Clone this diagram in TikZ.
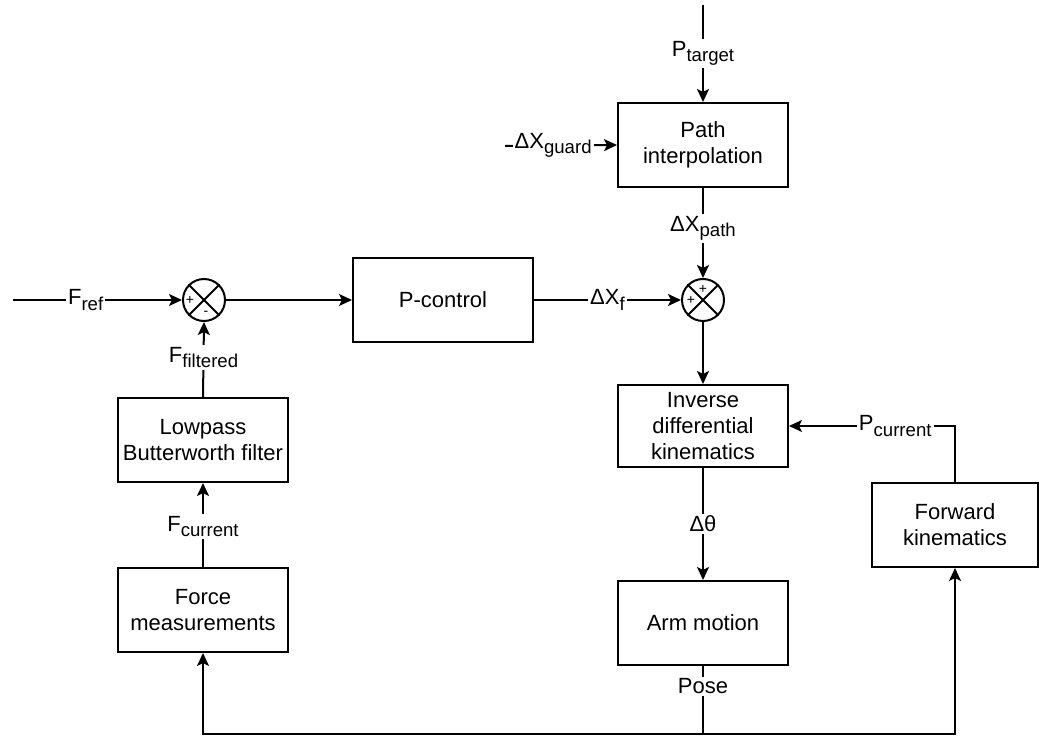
\documentclass[tikz,border=0pt]{standalone}
\usepackage{fontspec}
\setmainfont{Liberation Sans}
\usetikzlibrary{arrows.meta}
\newcommand{\lowtxt}[1]{\raisebox{-2.6pt}{\fontsize{9.3pt}{10pt}\selectfont #1}}

\begin{document}
\begin{tikzpicture}[x=0.5pt,y=-0.5pt,line width=1pt,
  >={Stealth[length=6.5pt,width=6pt,inset=1.5pt]},
  font=\fontsize{11pt}{13pt}\selectfont]
\tikzset{
  block/.style={draw, minimum width=85pt, minimum height=42pt, align=center, inner sep=1pt},
  sumjunc/.style={draw, circle, minimum size=21pt, inner sep=0pt},
  sig/.style={fill=white, inner sep=1pt},
  sgn/.style={font=\fontsize{7pt}{7pt}\selectfont, inner sep=0pt}
}
\useasboundingbox (0,0) rectangle (1039,737);
\node[block] (path) at (703,145) {Path\\interpolation};
\node[block, minimum width=90pt] (pctrl) at (443,300) {P-control};
\node[sumjunc] (sumf) at (204,300) {};
\node[sumjunc] (sumx) at (703,300) {};
\node[block] (lowpass) at (203,440) {Lowpass\\Butterworth filter};
\node[block] (force) at (203,610) {Force\\measurements};
\node[block, minimum height=41pt] (idk) at (703,426) {Inverse\\differential\\kinematics};
\node[block] (arm) at (703,623) {Arm motion};
\node[block, minimum width=83pt] (fk) at (955,525) {Forward\\kinematics};
\draw (sumf.north west) -- (sumf.south east) (sumf.north east) -- (sumf.south west);
\draw (sumx.north west) -- (sumx.south east) (sumx.north east) -- (sumx.south west);
\node[sgn] (sfa) at ([xshift=-7pt]sumf.center) {+};
\node[sgn] (sfb) at ([xshift=1pt,yshift=-6.5pt]sumf.center) {-};
\node[sgn] (sxa) at ([yshift=5.5pt]sumx.center) {+};
\node[sgn] (sxb) at ([xshift=-6pt]sumx.center) {+};
\coordinate (ptop) at (703,5);
\coordinate (gstart) at (505,146);
\coordinate (fstart) at (13,300);
\coordinate (base) at (703,734);
\draw[->] (ptop) -- node[sig]{P\lowtxt{target}} (path.north);
\draw[->] (gstart) -- node[sig,pos=0.43]{ΔX\lowtxt{guard}} (path.west);
\draw[->] (fstart) -- node[sig,pos=0.43]{F\lowtxt{ref}} (sumf.west);
\draw[->] (sumf.east) -- (pctrl.west);
\draw[->] (pctrl.east) -- node[sig]{ΔX\lowtxt{f}} (sumx.west);
\draw[->] (path.south) -- node[sig,pos=0.45]{ΔX\lowtxt{path}} (sumx.north);
\draw[->] (sumx.south) -- (idk.north);
\draw[->] (lowpass.north) -- node[sig,pos=0.53]{F\lowtxt{filtered}} (sumf.south);
\draw[->] (force.north) -- node[sig,pos=0.48]{F\lowtxt{current}} (lowpass.south);
\draw[->] (idk.south) -- node[sig]{Δθ} (arm.north);
\draw[->] (fk.north) |- node[sig,pos=0.68]{P\lowtxt{current}} (idk.east);
% feedback of the pose
\draw (arm.south) -- node[sig,pos=0.3]{Pose} (base);
\draw[->] (base) -| (force.south);
\draw[->] (base) -| (fk.south);
\end{tikzpicture}
\end{document}
